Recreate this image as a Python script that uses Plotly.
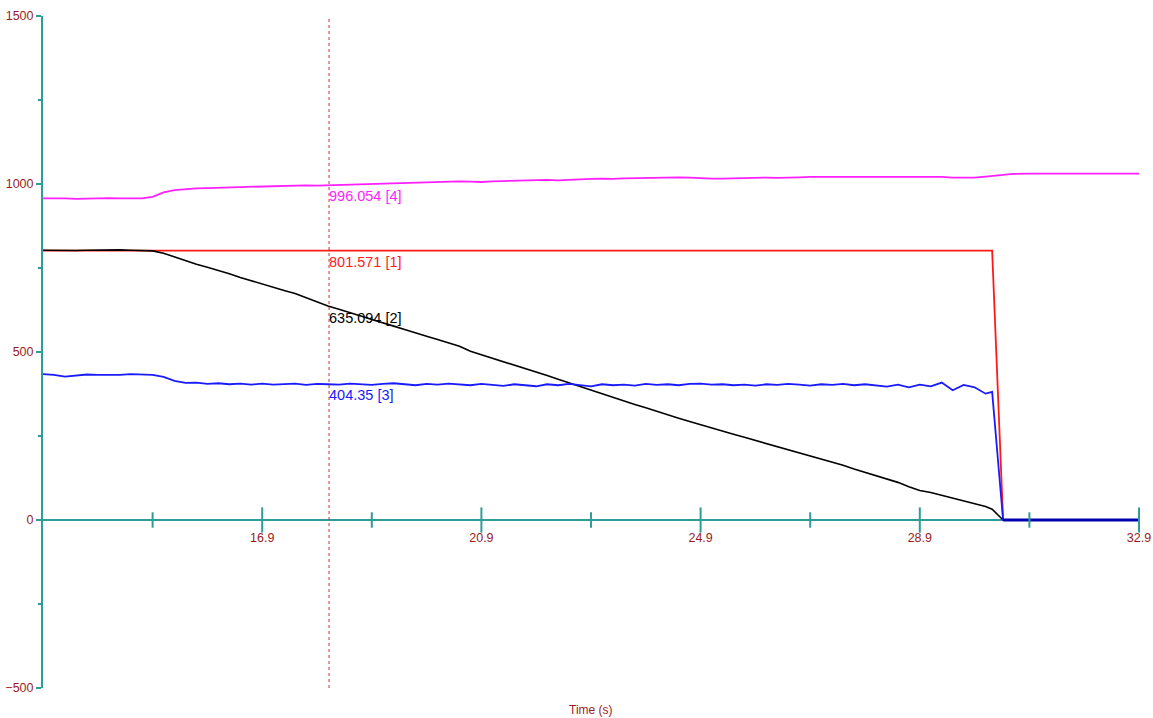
import numpy as np
import plotly.graph_objects as go

# ---- sample times (s), 0.2 s grid from 12.9 to 30.1 ----
t_grid = [round(12.9 + 0.2 * k, 2) for k in range(87)]

# ---- channel [4] (magenta) ----
ch4_vals = [
    957, 958, 957, 956, 957, 957, 958, 957, 958, 957,          # 12.9 - 14.7
    962, 975, 982, 985, 987, 988, 989, 990, 992, 992,          # 14.9 - 16.7
    994, 993, 995, 996, 996, 995, 996, 998, 999, 1000,         # 16.9 - 18.7
    1000, 1001, 1002, 1003, 1004, 1005, 1006, 1006, 1008, 1007,  # 18.9 - 20.7
    1006, 1008, 1009, 1010, 1011, 1012, 1012, 1011, 1013, 1014,  # 20.9 - 22.7
    1015, 1016, 1015, 1017, 1018, 1017, 1018, 1019, 1020, 1019,  # 22.9 - 24.7
    1017, 1016, 1016, 1017, 1018, 1018, 1019, 1018, 1018, 1020,  # 24.9 - 26.7
    1021, 1021, 1021, 1020, 1021, 1022, 1022, 1021, 1022, 1021,  # 26.9 - 28.7
    1022, 1022, 1021, 1019, 1018, 1019, 1022,                    # 28.9 - 30.1
]
ch4_tail_t = [30.22, 30.42, 30.6, 30.9, 31.2, 31.5, 31.8, 32.1, 32.4, 32.7, 32.9]
ch4_tail_v = [1024, 1027, 1030, 1031, 1031, 1030, 1031, 1030, 1029, 1030, 1031]

# ---- channel [2] (black) ----
ch2_vals = [
    803, 802, 803, 802, 803, 804, 805, 804, 803, 803,   # 12.9 - 14.7
    801, 794, 783, 771, 761, 752, 743, 733, 722, 712,   # 14.9 - 16.7
    701, 693, 683, 674, 661, 650, 637, 627, 618, 607,   # 16.9 - 18.7
    597, 588, 577, 567, 558, 547, 537, 527, 517, 502,   # 18.9 - 20.7
    492, 482, 472, 460, 450, 440, 430, 419, 408, 397,   # 20.9 - 22.7
    387, 377, 366, 355, 344, 334, 323, 312, 303, 293,   # 22.9 - 24.7
    283, 274, 265, 255, 246, 237, 228, 219, 210, 201,   # 24.9 - 26.7
    192, 183, 173, 163, 152, 142, 131, 122, 112, 99,    # 26.9 - 28.7
    88, 82, 74, 66, 57, 50, 40,                         # 28.9 - 30.1
]
ch2_tail_t = [30.22, 30.42, 32.9]
ch2_tail_v = [32, 0, 0]

# ---- channel [3] (blue) ----
ch3_vals = [
    434, 432, 427, 431, 433, 432, 431, 432, 434, 433,   # 12.9 - 14.7
    432, 426, 414, 408, 409, 405, 407, 404, 406, 403,   # 14.9 - 16.7
    406, 403, 405, 406, 402, 405, 404, 403, 406, 404,   # 16.9 - 18.7
    402, 405, 407, 404, 401, 405, 403, 406, 404, 401,   # 18.9 - 20.7
    405, 403, 399, 404, 402, 398, 404, 401, 405, 402,   # 20.9 - 22.7
    398, 404, 401, 403, 400, 405, 402, 404, 401, 405,   # 22.9 - 24.7
    406, 403, 404, 401, 403, 400, 404, 402, 405, 403,   # 24.9 - 26.7
    400, 404, 402, 405, 401, 404, 400, 397, 403, 395,   # 26.9 - 28.7
    403, 398, 409, 386, 402, 395, 376,                  # 28.9 - 30.1
]
ch3_tail_t = [30.22, 30.42, 32.9]
ch3_tail_v = [381, 0, 0]

# ---- channel [1] (red) ----
ch1_t = [12.9, 30.22, 30.42, 32.9]
ch1_v = [801.571, 801.571, 0, 0]

# ---- cursor readout ----
cursor_time = 18.12
cursor_vals = [996.054, 801.571, 635.094, 404.35]
cursor_text = ["996.054 [4]", "801.571 [1]", "635.094 [2]", "404.35 [3]"]
cursor_colors = ["#FF1FFF", "#FF1A1A", "#000000", "#1A1AFF"]

# ---- axis ticks ----
x_label_ticks = [16.9, 20.9, 24.9, 28.9, 32.9]
x_minor_ticks = [14.9, 18.9, 22.9, 26.9, 30.9]
y_ticks = [-500, 0, 500, 1000, 1500]

AXIS = "#2E9C98"
LABEL = "#9A1C1C"
FONT = "Liberation Sans, Arial, sans-serif"

assert len(ch4_vals) == len(ch2_vals) == len(ch3_vals) == len(t_grid)

fig = go.Figure()

fig.add_trace(go.Scatter(x=ch1_t, y=ch1_v, mode="lines",
                         line=dict(color="#FF1A1A", width=1.8)))
fig.add_trace(go.Scatter(x=t_grid + ch4_tail_t, y=ch4_vals + ch4_tail_v, mode="lines",
                         line=dict(color="#FF1FFF", width=1.8)))
fig.add_trace(go.Scatter(x=t_grid + ch2_tail_t, y=ch2_vals + ch2_tail_v, mode="lines",
                         line=dict(color="#000000", width=1.6)))
fig.add_trace(go.Scatter(x=t_grid + ch3_tail_t, y=ch3_vals + ch3_tail_v, mode="lines",
                         line=dict(color="#1A1AFF", width=1.8)))
# overlapping zero segment after the stop
fig.add_trace(go.Scatter(x=[30.42, 32.9], y=[0, 0], mode="lines",
                         line=dict(color="#0000B0", width=2.8)))

# tick marks crossing the time axis
fig.add_trace(go.Scatter(x=x_label_ticks, y=[0] * len(x_label_ticks), mode="markers",
                         marker=dict(symbol="line-ns", size=18,
                                     line=dict(color=AXIS, width=2)),
                         cliponaxis=False))
fig.add_trace(go.Scatter(x=x_minor_ticks, y=[0] * len(x_minor_ticks), mode="markers",
                         marker=dict(symbol="line-ns", size=11,
                                     line=dict(color=AXIS, width=2)),
                         cliponaxis=False))

# cursor line
fig.add_shape(type="line", x0=cursor_time, x1=cursor_time, y0=-500, y1=1500,
              xref="x", yref="y", line=dict(color="#C8322E", width=1, dash="dot"))

for v, txt, col in zip(cursor_vals, cursor_text, cursor_colors):
    fig.add_annotation(x=cursor_time, y=v, text=txt, showarrow=False,
                       xanchor="left", yanchor="top", xshift=-2, yshift=-1,
                       font=dict(family=FONT, size=14.5, color=col))

fig.add_annotation(x=0.5, y=-0.033, xref="paper", yref="paper", text="Time (s)",
                   showarrow=False, xanchor="center", yanchor="middle",
                   font=dict(family=FONT, size=12, color=LABEL))

fig.update_layout(
    width=1153, height=718,
    margin=dict(l=43, r=14, t=16, b=30, autoexpand=False),
    paper_bgcolor="white", plot_bgcolor="white",
    showlegend=False, hovermode=False,
    font=dict(family=FONT, size=12, color=LABEL),
    xaxis=dict(range=[12.9, 32.9], anchor="free", position=0.25,
               automargin=False, layer="below traces",
               showline=True, linecolor=AXIS, linewidth=2,
               showgrid=False, zeroline=False,
               tickmode="array", tickvals=x_label_ticks,
               ticktext=[f"{v:.1f}" for v in x_label_ticks],
               ticks="outside", ticklen=6, tickcolor="rgba(0,0,0,0)",
               tickfont=dict(size=12.5, color=LABEL)),
    yaxis=dict(range=[-500, 1500], automargin=False, layer="below traces",
               showline=True, linecolor=AXIS, linewidth=2,
               showgrid=False, zeroline=False,
               tickmode="array", tickvals=y_ticks,
               ticks="outside", ticklen=5, tickwidth=2, tickcolor=AXIS,
               tickfont=dict(size=12.5, color=LABEL),
               minor=dict(tickmode="linear", tick0=-500, dtick=250,
                          ticks="outside", ticklen=3, tickwidth=2,
                          tickcolor=AXIS, showgrid=False)),
)

fig.write_html("out.html")
